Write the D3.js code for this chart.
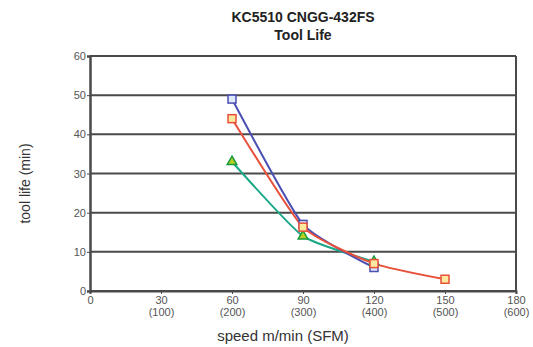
<!DOCTYPE html>
<html>
<head>
<meta charset="utf-8">
<script src="https://cdn.jsdelivr.net/npm/d3@7"></script>
<style>
body { margin: 0; background: #fff; }
text { font-family: "Liberation Sans", Arial, sans-serif; }
</style>
</head>
<body>
<script>
// values
var speeds = [60, 90, 120, 150];
var blueLife = [49, 17, 6];
var redLife = [44, 16.3, 7, 3];
var greenLife = [33, 14, 7.5];
var xTicks = [0, 30, 60, 90, 120, 150, 180];
var sfmLabels = ["", "(100)", "(200)", "(300)", "(400)", "(500)", "(600)"];
var yTicks = [0, 10, 20, 30, 40, 50, 60];

var margin = {top: 56, right: 17, bottom: 56, left: 90},
    width = 533 - margin.left - margin.right,
    height = 347 - margin.top - margin.bottom;

var svg = d3.select("body").append("svg")
    .attr("width", 533)
    .attr("height", 347);

var g = svg.append("g")
    .attr("transform", "translate(" + margin.left + "," + margin.top + ")");

var x = d3.scaleLinear().domain([0, 180]).range([0, width]);
var y = d3.scaleLinear().domain([0, 60]).range([height, 0]);

// title
svg.append("text").attr("x", 303).attr("y", 22)
    .attr("text-anchor", "middle").attr("font-size", "14px").attr("font-weight", "bold")
    .attr("fill", "#222").text("KC5510 CNGG-432FS");
svg.append("text").attr("x", 303).attr("y", 40)
    .attr("text-anchor", "middle").attr("font-size", "14px").attr("font-weight", "bold")
    .attr("fill", "#222").text("Tool Life");

// grid lines
g.selectAll(".grid")
    .data(yTicks)
    .enter().append("line")
    .attr("x1", 0).attr("x2", width)
    .attr("y1", function(d) { return y(d); })
    .attr("y2", function(d) { return y(d); })
    .attr("stroke", "#4a4a4a").attr("stroke-width", 2);

// right border
g.append("line").attr("x1", width).attr("x2", width).attr("y1", 0).attr("y2", height)
    .attr("stroke", "#4a4a4a").attr("stroke-width", 2);

var yAxis = d3.axisLeft(y).tickValues(yTicks).tickSize(3).tickPadding(1);
var yg = g.append("g").call(yAxis);
yg.select(".domain").attr("stroke", "#4a4a4a").attr("stroke-width", 2.5);
yg.selectAll(".tick line").attr("stroke", "#4a4a4a");
yg.selectAll("text").attr("font-size", "11px").attr("fill", "#555").attr("font-family", "Liberation Sans, Arial, sans-serif");

var xAxis = d3.axisBottom(x).tickValues(xTicks).tickSize(3).tickPadding(2).tickFormat("");
var xg = g.append("g").attr("transform", "translate(0," + height + ")").call(xAxis);
xg.select(".domain").attr("stroke", "#4a4a4a").attr("stroke-width", 2);
xg.selectAll(".tick line").attr("stroke", "#4a4a4a");

var xl = xg.selectAll(".tick").append("text")
    .attr("fill", "#555").attr("font-size", "11px").attr("text-anchor", "middle")
    .attr("font-family", "Liberation Sans, Arial, sans-serif");
xl.append("tspan").attr("x", 0).attr("y", 13).text(function(d) { return d; });
xl.append("tspan").attr("x", 0).attr("y", 25)
    .text(function(d, i) { return sfmLabels[i]; });

// axis titles
svg.append("text").attr("x", 283).attr("y", 341)
    .attr("text-anchor", "middle").attr("font-size", "15px").attr("fill", "#333")
    .text("speed m/min (SFM)");
svg.append("text")
    .attr("transform", "translate(30," + (margin.top + height / 2 + 10) + ") rotate(-90)")
    .attr("text-anchor", "middle").attr("font-size", "14px").attr("fill", "#333")
    .text("tool life (min)");

var series = [
    {name: "green", vals: greenLife, stroke: "#1aa886", fill: "#b8d020", marker: "tri"},
    {name: "blue", vals: blueLife, stroke: "#4a4fb2", fill: "#dfe8f8", marker: "sq"},
    {name: "red", vals: redLife, stroke: "#e8503a", fill: "#fde8a0", marker: "sq"}
];

var line = d3.line()
    .x(function(d) { return x(d.s); })
    .y(function(d) { return y(d.v); })
    .curve(d3.curveCardinal.tension(0.5));

series.forEach(function(s) {
    var pts = s.vals.map(function(v, i) { return {s: speeds[i], v: v}; });
    g.append("path").datum(pts)
        .attr("d", line)
        .attr("fill", "none").attr("stroke", s.stroke).attr("stroke-width", 2);
});

series.forEach(function(s) {
    var pts = s.vals.map(function(v, i) { return {s: speeds[i], v: v}; });
    if (s.marker == "sq") {
        g.selectAll(".m-" + s.name).data(pts).enter().append("rect")
            .attr("x", function(d) { return x(d.s) - 4; })
            .attr("y", function(d) { return y(d.v) - 4; })
            .attr("width", 8).attr("height", 8)
            .attr("fill", s.fill).attr("stroke", s.stroke).attr("stroke-width", 1.5);
    } else {
        g.selectAll(".m-" + s.name).data(pts).enter().append("path")
            .attr("d", d3.symbol().type(d3.symbolTriangle).size(40))
            .attr("transform", function(d) { return "translate(" + x(d.s) + "," + y(d.v) + ")"; })
            .attr("fill", s.fill).attr("stroke", "#1a9a40").attr("stroke-width", 1.5);
    }
});
</script>
</body>
</html>
